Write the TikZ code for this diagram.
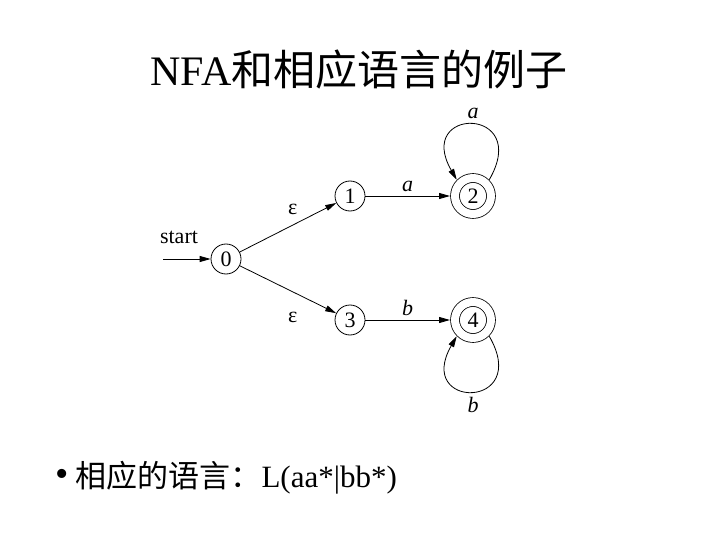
\documentclass[tikz,border=0pt]{standalone}
\usepackage{fontspec}
\setmainfont{Liberation Serif}
\newfontfamily\cjk{Noto Sans CJK SC}
\usetikzlibrary{arrows.meta,positioning}
\tikzset{
  snode/.style={draw, circle, line width=0.8pt, minimum size=30pt, inner sep=0pt,
                font=\fontsize{22}{22}\selectfont},
  anode/.style={snode, minimum size=36pt, double, double distance=8pt, outer sep=5pt},
  tr/.style={-{Triangle[length=11pt,width=6pt]}, line width=0.8pt},
  elabel/.style={font=\fontsize{22}{22}\selectfont\itshape},
  eps/.style={font=\fontsize{22}{22}\selectfont},
}

\begin{document}
\begin{tikzpicture}[x=1pt,y=1pt]
\useasboundingbox (0,0) rectangle (720,-540);

% title
\node (title) at (359,-70) {\fontsize{42}{42}\selectfont NFA{\cjk 和相应语言的例子}};

% states
\node[snode] (s0) at (226,-259) {0};
\node[snode] (s1) at (350,-196) {1};
\node[anode] (s2) at (473,-196) {2};
\node[snode] (s3) at (350,-320) {3};
\node[anode] (s4) at (473,-320) {4};

% start
\coordinate (in) at (163,-259);
\node[font=\fontsize{22}{22}\selectfont] (startlbl) at (179,-237) {start};
\draw[tr] (in) -- (s0);

% transitions
\draw[tr] (s0) -- node[eps, pos=0.55, above=7pt] {ε} (s1);
\draw[tr] (s0) -- node[eps, pos=0.55, below=17pt] {ε} (s3);
\draw[tr] (s1) -- node[elabel, above=1pt] {a} (s2);
\draw[tr] (s3) -- node[elabel, above=1pt] {b} (s4);

% loops
\draw[tr] (s2.45) .. controls +(60:85) and +(120:85) .. node[elabel, above=2pt] {a} (s2.135);
\draw[tr] (s4.-45) .. controls +(-60:85) and +(-120:85) .. node[elabel, below=2pt] {b} (s4.-135);

% language
\node (dot) at (62,-478) {\fontsize{38}{38}\selectfont •};
\node[anchor=west] (lang) at (72,-478) {\fontsize{31}{31}\selectfont{\cjk 相应的语言：}L(aa*|bb*)};

\end{tikzpicture}
\end{document}
